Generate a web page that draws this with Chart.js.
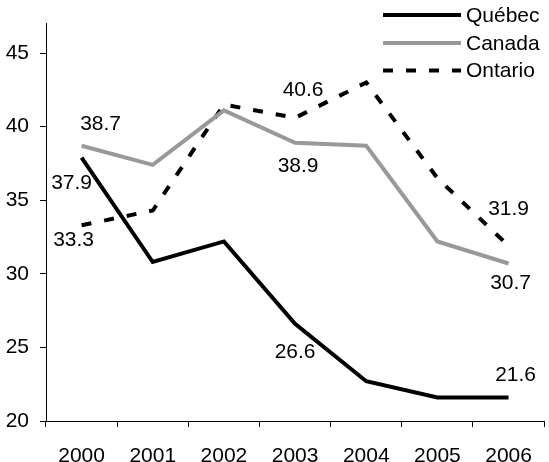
<!DOCTYPE html>
<html>
<head>
<meta charset="utf-8">
<script src="https://cdn.jsdelivr.net/npm/chart.js@4/dist/chart.umd.min.js"></script>
<style>
  html, body { margin: 0; padding: 0; background: #fff; }
  #wrap { width: 549px; height: 462px; position: relative; }
</style>
</head>
<body>
<div id="wrap"><canvas id="c"></canvas></div>
<script>
// ---- data ----
const categories = ['2000', '2001', '2002', '2003', '2004', '2005', '2006'];
const quebec  = [37.9, 30.8, 32.2, 26.6, 22.7, 21.6, 21.6];
const canada  = [38.7, 37.4, 41.1, 38.9, 38.7, 32.2, 30.7];
const ontario = [33.3, 34.3, 41.5, 40.6, 43.0, 36.5, 31.9];
const yTicks  = [20, 25, 30, 35, 40, 45];
const labelledIndices = [0, 3, 6];

// label offsets (px) relative to points: [dx, dy] per labelled index
const labelOffsets = {
  0: { 0: [-10, 26], 3: [0, 28], 6: [7, -22] },     // Québec
  1: { 0: [19, -22], 3: [3, 23], 6: [2, 20] },      // Canada
  2: { 0: [-8, 15], 3: [8, -28], 6: [0, -37] }      // Ontario
};

const FONT = '"Liberation Sans", Arial, sans-serif';
const FS = 21;

const labelsPlugin = {
  id: 'pointLabels',
  afterDatasetsDraw(chart) {
    const ctx = chart.ctx;
    ctx.save();
    ctx.font = FS + 'px ' + FONT;
    ctx.fillStyle = '#000';
    ctx.textAlign = 'center';
    ctx.textBaseline = 'middle';
    chart.data.datasets.forEach((ds, di) => {
      const meta = chart.getDatasetMeta(di);
      labelledIndices.forEach(i => {
        const pt = meta.data[i];
        const off = labelOffsets[di][i];
        ctx.fillText(ds.data[i].toFixed(1), pt.x + off[0], pt.y + off[1]);
      });
    });
    ctx.restore();
  }
};

const legendPlugin = {
  id: 'customLegend',
  afterDraw(chart) {
    const ctx = chart.ctx;
    ctx.save();
    const x0 = 383, x1 = 461, tx = 466;
    const ys = [15, 43, 70.5];
    chart.data.datasets.forEach((ds, di) => {
      const y = ys[di];
      ctx.beginPath();
      ctx.lineWidth = ds.borderWidth;
      ctx.strokeStyle = ds.borderColor;
      ctx.lineCap = 'butt';
      ctx.setLineDash(ds.borderDash || []);
      ctx.moveTo(x0, y);
      ctx.lineTo(x1, y);
      ctx.stroke();
      ctx.setLineDash([]);
      ctx.font = FS + 'px ' + FONT;
      ctx.fillStyle = '#000';
      ctx.textAlign = 'left';
      ctx.textBaseline = 'middle';
      ctx.fillText(ds.label, tx, y + 1);
    });
    ctx.restore();
  }
};

new Chart(document.getElementById('c'), {
  type: 'line',
  data: {
    labels: categories,
    datasets: [
      { label: 'Québec', data: quebec, borderColor: '#000000', borderWidth: 4, pointRadius: 0, tension: 0, fill: false },
      { label: 'Canada', data: canada, borderColor: '#999999', borderWidth: 4, pointRadius: 0, tension: 0, fill: false },
      { label: 'Ontario', data: ontario, borderColor: '#000000', borderWidth: 4, borderDash: [10, 13], pointRadius: 0, tension: 0, fill: false }
    ]
  },
  options: {
    responsive: true,
    maintainAspectRatio: false,
    animation: false,
    layout: { padding: { top: 21, right: 1, left: 0, bottom: 0 } },
    plugins: { legend: { display: false }, tooltip: { enabled: false } },
    scales: {
      x: {
        offset: true,
        grid: { display: true, offset: true, drawOnChartArea: false, drawTicks: true, tickLength: 6, color: '#000' },
        border: { color: '#000', width: 1 },
        ticks: { color: '#000', font: { family: FONT, size: FS }, padding: 17, maxRotation: 0 },
        afterFit(s) { s.height = 41; }
      },
      y: {
        min: 20,
        max: 47,
        grid: { display: true, drawOnChartArea: false, drawTicks: true, tickLength: 6, color: '#000' },
        border: { color: '#000', width: 1 },
        ticks: { color: '#000', font: { family: FONT, size: FS }, padding: 11, stepSize: 5 },
        afterBuildTicks(s) { s.ticks = yTicks.map(v => ({ value: v })); },
        afterFit(s) { s.width = 46; }
      }
    }
  },
  plugins: [labelsPlugin, legendPlugin]
});
</script>
</body>
</html>
